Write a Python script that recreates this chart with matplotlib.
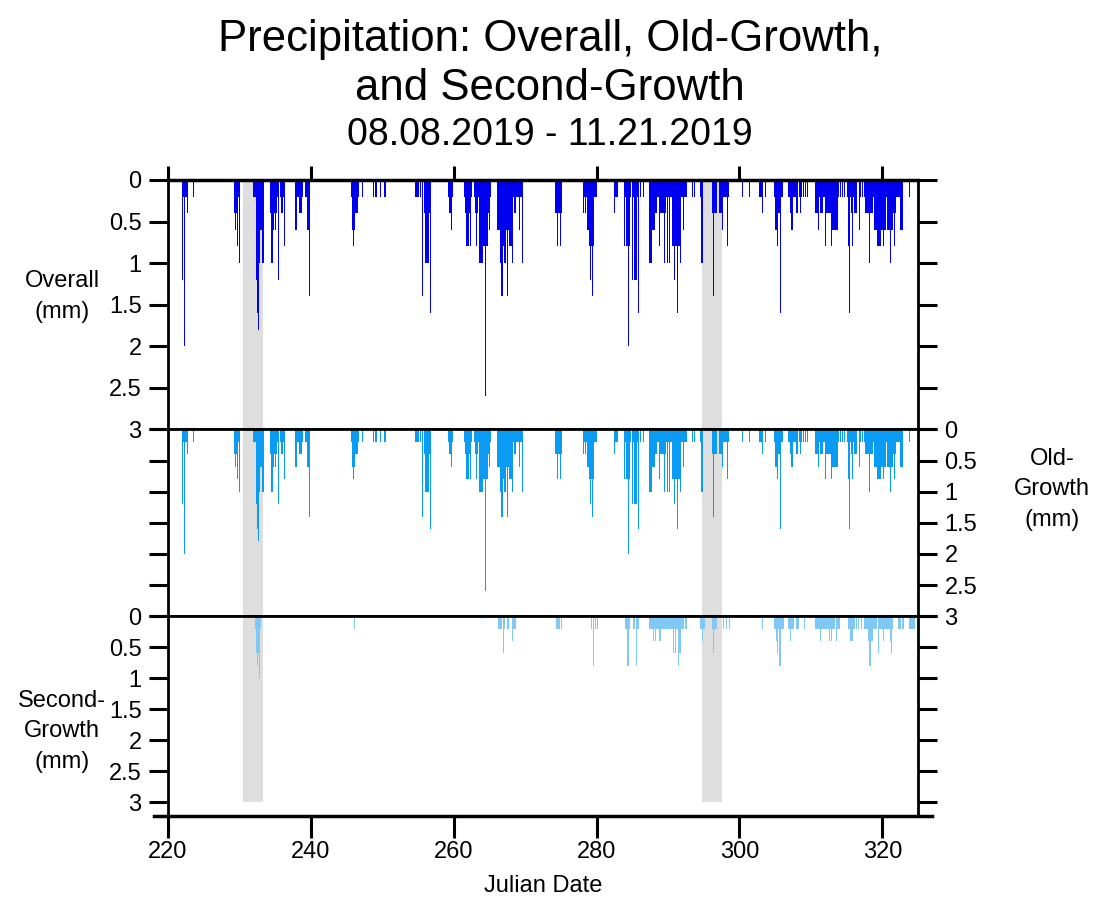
import matplotlib
matplotlib.use("Agg")
import matplotlib.pyplot as plt

plt.rcParams['font.family'] = ['Liberation Sans', 'DejaVu Sans']

# Julian day and rainfall (mm), overall gauge
overall_day = [
    222.00, 222.08, 222.16, 222.25, 222.30, 222.40, 222.50, 222.60, 222.70, 222.78, 223.55,
    229.30, 229.40, 229.50, 229.60, 229.70, 229.80, 229.90, 230.05,
    231.95, 232.10, 232.25, 232.35, 232.45, 232.55, 232.62, 232.72, 232.82, 232.95, 233.05, 233.15, 233.30,
    234.30, 234.42, 234.55, 234.65, 234.75, 234.88, 235.00, 235.12, 235.25, 235.42, 235.50,
    235.80, 235.95, 236.10, 236.22, 236.32,
    237.92, 238.05, 238.18, 238.30, 238.45, 238.58, 238.70, 238.82,
    239.30, 239.45, 239.60, 239.75,
    245.72, 245.85, 245.95, 246.05, 246.18, 246.30, 246.42, 246.55, 246.68,
    247.25, 248.79, 249.12, 249.73, 250.38,
    254.63, 254.86, 255.09, 255.33, 255.65, 255.90, 256.00, 256.12, 256.25, 256.38, 256.50, 256.62, 256.72,
    259.30, 259.42, 259.55, 259.67, 259.80,
    261.58, 261.72, 261.85, 261.95, 262.08, 262.20, 262.36, 262.50,
    262.90, 263.02, 263.12, 263.22, 263.32, 263.45, 263.58, 263.68, 263.78, 263.88, 263.98,
    264.08, 264.18, 264.28, 264.38, 264.50, 264.62, 264.72, 264.82, 264.95, 265.07, 265.20,
    266.15, 266.25, 266.35, 266.45, 266.55, 266.62, 266.75, 266.88, 267.00, 267.10, 267.22,
    267.35, 267.50, 267.62, 267.75, 267.88, 268.00, 268.12, 268.24, 268.36, 268.48, 268.60,
    268.75, 268.90, 269.05, 269.18, 269.30, 269.45, 269.64,
    274.32, 274.45, 274.55, 274.68, 274.80, 274.92, 275.05,
    278.15, 278.35, 278.50, 278.65, 278.80, 278.92, 279.05, 279.15, 279.25, 279.38, 279.50,
    279.62, 279.75, 279.90, 280.02,
    282.45, 282.65, 282.85,
    283.95, 284.05, 284.15, 284.25, 284.35, 284.44, 284.55, 284.68, 284.80, 285.05, 285.18,
    285.32, 285.51, 285.65, 285.84, 286.10, 286.54,
    287.40, 287.50, 287.60, 287.70, 287.80, 287.92, 288.02, 288.12, 288.22, 288.32, 288.45,
    288.55, 288.65, 288.78, 288.90, 289.00, 289.10, 289.22, 289.35, 289.48, 289.60, 289.72,
    289.82, 289.94, 290.05, 290.18, 290.30, 290.42, 290.52, 290.64, 290.76, 290.88, 291.00,
    291.10, 291.22, 291.34, 291.45, 291.55, 291.65, 291.72, 291.85, 291.95, 292.06, 292.18,
    292.30, 292.40, 292.51, 292.62,
    293.44, 293.68, 294.62, 294.75, 294.88, 296.24, 296.38, 296.50, 296.62, 296.80,
    297.18, 297.30, 297.42, 297.64, 297.76, 297.88, 298.00, 298.12, 298.22, 298.34, 298.46,
    300.44, 301.38, 302.75, 302.88, 303.00, 303.12, 303.24, 303.70,
    304.90, 305.02, 305.12, 305.22, 305.34, 305.45, 305.55, 305.72, 305.85, 305.98,
    306.88, 307.00, 307.10, 307.22, 307.35, 307.46, 307.58, 307.70, 307.82, 307.94, 308.06,
    308.18, 308.38, 308.52, 308.62, 308.94, 309.22, 309.54,
    310.72, 310.84, 310.96, 311.08, 311.20, 311.30, 311.42, 311.54, 311.66, 311.80, 311.90,
    312.02, 312.14, 312.26, 312.38, 312.50, 312.62, 312.74, 312.86, 312.95, 313.06, 313.18,
    313.30, 313.42, 313.54, 313.66, 313.78, 313.90, 314.20, 314.40, 314.68,
    315.15, 315.26, 315.38, 315.50, 315.62, 315.74, 315.84, 315.96, 316.08, 316.20, 316.32,
    316.45, 316.78, 317.00, 317.22, 317.48, 317.71,
    317.82, 317.94, 318.06, 318.18, 318.30, 318.42, 318.54, 318.66, 318.78, 318.90, 319.02,
    319.14, 319.26, 319.38, 319.50, 319.62, 319.74, 319.86, 319.98, 320.14, 320.26, 320.38,
    320.50, 320.62, 320.74, 320.86, 320.98, 321.10, 321.21, 321.32, 321.44, 321.56, 321.68,
    321.80, 321.92,
    322.14, 322.28, 322.40, 322.52, 322.64, 322.75, 323.78,
]
overall_mm = [
    0.4, 1.2, 0.2, 1.6, 2.0, 0.2, 0.2, 0.2, 0.4, 0.2, 0.2,
    0.4, 0.2, 0.6, 0.4, 0.8, 0.2, 0.2, 1.0,
    0.2, 0.2, 0.2, 1.0, 1.2, 1.6, 1.8, 1.2, 1.0, 0.6, 0.6, 0.6, 1.0,
    0.2, 0.4, 1.0, 0.2, 0.6, 0.4, 0.6, 0.4, 0.2, 1.2, 0.6,
    0.2, 0.4, 0.2, 0.2, 0.8,
    0.6, 0.2, 0.2, 0.2, 0.4, 0.4, 0.4, 0.2,
    0.2, 0.2, 0.6, 1.4,
    0.2, 0.6, 0.8, 0.6, 0.4, 0.4, 0.4, 0.4, 0.2,
    0.2, 0.2, 0.2, 0.2, 0.2,
    0.2, 0.2, 0.2, 0.2, 1.4, 0.4, 0.4, 1.0, 1.0, 1.0, 1.0, 0.4, 1.6,
    0.2, 0.4, 0.4, 0.6, 0.2,
    0.2, 0.4, 0.8, 0.4, 0.8, 0.4, 0.8, 0.2,
    0.2, 0.4, 0.4, 0.8, 0.4, 0.2, 0.8, 1.0, 1.0, 1.0, 1.0,
    0.8, 0.8, 0.8, 0.8, 2.6, 0.8, 0.8, 0.4, 0.2, 0.6, 0.2,
    0.6, 0.6, 0.6, 0.6, 0.8, 1.0, 1.4, 1.0, 0.8, 1.0, 1.0,
    0.6, 1.4, 0.6, 0.4, 0.8, 0.2, 0.8, 1.0, 0.2, 0.4, 0.4,
    0.2, 0.2, 0.2, 0.6, 0.2, 0.2, 1.0,
    0.4, 0.4, 0.8, 0.4, 0.4, 0.8, 0.4,
    0.4, 0.2, 0.4, 0.2, 0.6, 0.2, 0.8, 1.2, 0.8, 1.4, 0.8,
    0.2, 0.2, 0.2, 0.2,
    0.4, 0.2, 0.2,
    0.8, 0.2, 0.8, 0.8, 0.2, 2.0, 0.8, 0.2, 0.2, 1.2, 0.2,
    1.2, 1.2, 0.2, 1.6, 0.2, 0.2,
    1.0, 1.0, 1.0, 1.0, 0.6, 0.6, 0.6, 0.6, 0.4, 0.4, 0.2,
    0.2, 0.2, 0.8, 0.2, 0.4, 0.4, 0.4, 0.4, 1.0, 0.4, 0.2,
    0.2, 1.0, 0.2, 1.0, 0.2, 0.2, 0.2, 0.8, 0.8, 1.2, 0.8,
    0.8, 0.8, 1.6, 0.8, 0.8, 0.8, 1.0, 0.2, 0.2, 0.2, 0.6,
    0.2, 0.2, 0.2, 0.2,
    0.2, 0.2, 0.2, 1.0, 0.2, 0.4, 1.4, 0.4, 0.4, 0.4,
    0.4, 0.4, 0.4, 0.6, 0.2, 0.2, 0.2, 0.2, 0.2, 0.8, 0.2,
    0.2, 0.2, 0.2, 0.2, 0.2, 0.2, 0.4, 0.2,
    0.2, 0.4, 0.6, 0.4, 0.8, 0.4, 0.4, 1.6, 0.2, 0.2,
    0.2, 0.2, 0.4, 0.4, 0.6, 0.2, 0.2, 0.2, 0.2, 0.4, 0.4,
    0.4, 0.2, 0.4, 0.2, 0.2, 0.2, 0.2,
    0.4, 0.4, 0.4, 0.6, 0.2, 0.2, 0.4, 0.4, 0.4, 0.2, 0.2,
    0.8, 0.4, 0.4, 0.4, 0.4, 0.4, 0.4, 0.4, 0.8, 0.6, 0.6,
    0.6, 0.6, 0.6, 0.6, 0.6, 0.2, 0.2, 0.2, 0.2,
    0.2, 0.8, 1.6, 0.2, 0.2, 0.4, 0.8, 0.2, 0.4, 0.4, 0.4,
    0.2, 0.6, 0.2, 0.2, 0.2, 0.4,
    0.4, 0.4, 0.4, 1.0, 0.4, 0.4, 0.4, 0.4, 0.2, 0.6, 0.6,
    0.6, 0.6, 0.8, 0.8, 0.8, 0.8, 0.6, 0.6, 0.8, 0.6, 0.6,
    0.6, 0.2, 0.6, 0.6, 0.6, 0.6, 1.0, 0.6, 0.6, 0.4, 0.8,
    0.4, 0.2,
    0.2, 0.2, 0.2, 0.6, 0.2, 0.6, 0.2,
]

# old-growth gauge reads the same as the overall record on the chart
oldgrowth_day = overall_day
oldgrowth_mm = overall_mm

secondgrowth_day = [
    232.32, 232.42, 232.52, 232.62, 232.75, 232.88, 233.00,
    246.13,
    255.75, 256.00, 256.68, 259.71, 262.28, 263.70, 264.00, 264.38,
    266.25, 266.40, 266.55, 266.70, 266.95, 267.10, 267.50, 267.65, 268.25, 268.40, 268.55, 268.70,
    274.40, 274.55, 274.70, 274.85, 275.05,
    279.30, 279.54, 279.80, 280.15,
    284.05, 284.20, 284.40, 284.60, 285.15, 285.35, 285.60, 285.80,
    287.48, 287.60, 287.72, 287.84, 287.96, 288.08, 288.20, 288.32, 288.44, 288.56, 288.68,
    288.87, 289.00, 289.12, 289.24, 289.36, 289.48, 289.60, 289.72, 289.84, 289.96, 290.10,
    290.22, 290.34, 290.46, 290.60, 290.74, 290.86, 290.98, 291.10, 291.22, 291.34, 291.44,
    291.56, 291.68, 291.80, 291.92, 292.04, 292.20, 292.40, 292.60,
    294.62, 294.80, 294.95, 295.10,
    296.24, 296.34, 296.46, 296.60, 296.80,
    297.74, 298.20, 298.66,
    303.24,
    304.97, 305.10, 305.20, 305.30, 305.45, 305.55, 305.67, 305.80, 305.95, 306.10,
    306.85, 307.00, 307.16, 307.30, 307.50, 307.95, 308.20, 309.16,
    310.70, 310.82, 310.94, 311.06, 311.18, 311.36, 311.48, 311.60, 311.72, 311.84, 311.96,
    312.08, 312.20, 312.32, 312.44, 312.58, 312.70, 312.90, 313.10, 313.30, 313.60, 313.80, 314.00,
    315.23, 315.40, 315.55, 315.75, 315.95, 316.15, 316.40, 316.70, 317.10,
    317.57, 317.70, 317.82, 317.94, 318.06, 318.18, 318.27, 318.40, 318.52, 318.64, 318.76,
    318.88, 319.00, 319.12, 319.24, 319.43, 319.55, 319.67, 319.79, 319.91, 320.03, 320.15,
    320.27, 320.39, 320.51, 320.63, 320.75, 320.87, 320.99, 321.11, 321.30, 321.42,
    322.23, 322.40, 322.60, 322.80, 323.00, 323.87, 324.10, 324.30, 324.55,
]
secondgrowth_mm = [
    0.2, 0.6, 0.8, 0.6, 1.0, 0.2, 0.2,
    0.2,
    0.03, 0.03, 0.03, 0.03, 0.03, 0.03, 0.05, 0.03,
    0.2, 0.2, 0.2, 0.2, 0.6, 0.2, 0.2, 0.2, 0.4, 0.2, 0.2, 0.2,
    0.2, 0.2, 0.2, 0.2, 0.2,
    0.2, 0.8, 0.2, 0.2,
    0.2, 0.2, 0.8, 0.2, 0.2, 0.2, 0.8, 0.2,
    0.2, 0.2, 0.2, 0.2, 0.4, 0.2, 0.4, 0.2, 0.2, 0.2, 0.2,
    0.4, 0.2, 0.2, 0.2, 0.2, 0.2, 0.2, 0.2, 0.2, 0.2, 0.2,
    0.2, 0.2, 0.2, 0.2, 0.6, 0.2, 0.2, 0.6, 0.2, 0.2, 0.8,
    0.2, 0.6, 0.2, 0.2, 0.2, 0.2, 0.2, 0.2,
    0.2, 0.4, 0.2, 0.2,
    0.2, 0.6, 0.2, 0.2, 0.2,
    0.2, 0.2, 0.2,
    0.2,
    0.2, 0.2, 0.4, 0.6, 0.2, 0.2, 0.8, 0.2, 0.2, 0.2,
    0.2, 0.2, 0.4, 0.2, 0.2, 0.2, 0.2, 0.2,
    0.2, 0.2, 0.2, 0.2, 0.2, 0.4, 0.2, 0.2, 0.2, 0.2, 0.2,
    0.2, 0.2, 0.2, 0.2, 0.4, 0.2, 0.4, 0.2, 0.2, 0.4, 0.2, 0.2,
    0.2, 0.2, 0.4, 0.4, 0.2, 0.2, 0.2, 0.2, 0.2,
    0.2, 0.2, 0.2, 0.2, 0.4, 0.4, 0.8, 0.4, 0.4, 0.4, 0.2,
    0.2, 0.2, 0.2, 0.2, 0.6, 0.2, 0.2, 0.2, 0.2, 0.2, 0.4,
    0.2, 0.2, 0.2, 0.2, 0.2, 0.2, 0.2, 0.4, 0.6, 0.2,
    0.2, 0.2, 0.2, 0.2, 0.2, 0.2, 0.2, 0.2, 0.2,
]

# shaded periods (Julian day)
shade_spans = [(230.5, 233.3), (294.7, 297.5)]

yticks = [0, 0.5, 1, 1.5, 2, 2.5, 3]
ytick_labels = ["0", "0.5", "1", "1.5", "2", "2.5", "3"]
xticks = [220, 240, 260, 280, 300, 320]

fig = plt.figure(figsize=(10.94, 9.01), dpi=100)
gs = fig.add_gridspec(3, 1, height_ratios=[249.6, 187, 200], hspace=0,
                      left=168/1094, right=918/1094, top=1-180/901, bottom=1-816/901)
ax1 = fig.add_subplot(gs[0])
ax2 = fig.add_subplot(gs[1], sharex=ax1)
ax3 = fig.add_subplot(gs[2], sharex=ax1)

bar_w = 0.16
ax1.bar(overall_day, overall_mm, width=bar_w, color="#0000f0", linewidth=0, zorder=2)
ax2.bar(oldgrowth_day, oldgrowth_mm, width=bar_w, color="#0a9cf5", linewidth=0, zorder=2)
ax3.bar(secondgrowth_day, secondgrowth_mm, width=bar_w, color="#82c8f5", linewidth=0, zorder=2)

for x0, x1 in shade_spans:
    for ax in (ax1, ax2):
        ax.axvspan(x0, x1, color="#dedede", linewidth=0, zorder=0)
    ax3.fill_between([x0, x1], 0, 3, color="#dedede", linewidth=0, zorder=0)

ax1.set_xlim(220, 325)
ax1.set_ylim(3, 0)
ax2.set_ylim(3, 0)
ax3.set_ylim(3.226, 0)

for ax in (ax1, ax2, ax3):
    ax.set_yticks(yticks)
    ax.set_yticklabels(ytick_labels)
    ax.tick_params(axis="y", direction="out", length=14, width=2.2, labelsize=17,
                   left=True, right=True, pad=5)
    for s in ax.spines.values():
        s.set_linewidth(2)
    ax.set_xticks(xticks)

ax1.tick_params(axis="y", labelleft=True, labelright=False)
ax2.tick_params(axis="y", labelleft=False, labelright=True)
ax3.tick_params(axis="y", labelleft=True, labelright=False)

ax1.tick_params(axis="x", top=True, bottom=False, labeltop=False, labelbottom=False,
                direction="out", length=10, width=2.2)
ax2.tick_params(axis="x", top=False, bottom=False, labeltop=False, labelbottom=False)
ax3.tick_params(axis="x", top=False, bottom=True, labelbottom=True, direction="out",
                length=16, width=2.2, labelsize=17, pad=2)
ax1.spines["top"].set_linewidth(2.5)
ax3.spines["bottom"].set_linewidth(2.5)
ax3.spines["bottom"].set_bounds(218.05, 326.95)

ax1.set_ylabel("Overall\n(mm)", fontsize=17, rotation=0, linespacing=1.5,
               ha="center", va="center")
ax1.yaxis.set_label_coords(-0.141, 0.533)
ax2.yaxis.set_label_position("right")
ax2.set_ylabel("Old-\nGrowth\n(mm)", fontsize=17, rotation=0, linespacing=1.5,
               ha="center", va="center")
ax2.yaxis.set_label_coords(1.179, 0.68)
ax3.set_ylabel("Second-\nGrowth\n(mm)", fontsize=17, rotation=0, linespacing=1.5,
               ha="center", va="center")
ax3.yaxis.set_label_coords(-0.141, 0.425)
ax3.set_xlabel("Julian Date", fontsize=17, va="center")
ax3.xaxis.set_label_coords(0.5, -0.35)

fig.text(550/1094, 1-40/901, "Precipitation: Overall, Old-Growth,", ha="center", va="center", fontsize=31.5)
fig.text(550/1094, 1-88/901, "and Second-Growth", ha="center", va="center", fontsize=31.5)
fig.text(550/1094, 1-135/901, "08.08.2019 - 11.21.2019", ha="center", va="center", fontsize=27)

fig.savefig("out.png", dpi=100)
